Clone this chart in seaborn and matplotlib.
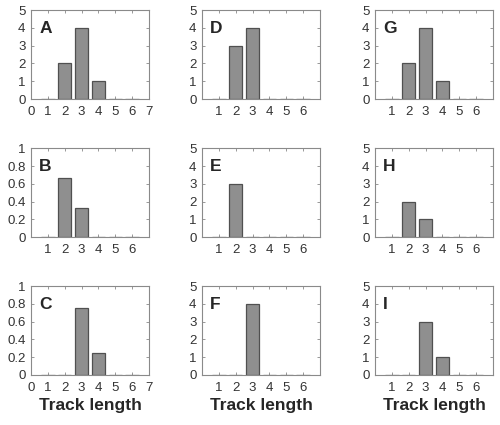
import numpy as np
import pandas as pd
import seaborn as sns
import matplotlib
matplotlib.use("Agg")
import matplotlib.pyplot as plt

# track lengths on the x axis
lengths = [1, 2, 3, 4, 5, 6]

# bar heights per panel
panel_a = [0, 2, 4, 1, 0, 0]
panel_b = [0, 0.667, 0.333, 0, 0, 0]
panel_c = [0, 0, 0.75, 0.25, 0, 0]
panel_d = [0, 3, 4, 0, 0, 0]
panel_e = [0, 3, 0, 0, 0, 0]
panel_f = [0, 0, 4, 0, 0, 0]
panel_g = [0, 2, 4, 1, 0, 0]
panel_h = [0, 2, 1, 0, 0, 0]
panel_i = [0, 0, 3, 1, 0, 0]

letters = ["A", "B", "C", "D", "E", "F", "G", "H", "I"]
values = [panel_a, panel_b, panel_c, panel_d, panel_e, panel_f, panel_g, panel_h, panel_i]

count_ticks = [0, 1, 2, 3, 4, 5]
frac_ticks = [0, 0.2, 0.4, 0.6, 0.8, 1]
frac_labels = ["0", "0.2", "0.4", "0.6", "0.8", "1"]

sns.set_style("ticks")
plt.rcParams["font.family"] = ["Liberation Sans", "DejaVu Sans"]

fig = plt.figure(figsize=(5, 4.25), dpi=100)
lefts = [0.062, 0.404, 0.75]
bottoms = [0.767, 0.442, 0.118]
w, h = 0.236, 0.209

for k, (letter, vals) in enumerate(zip(letters, values)):
    col, row = k // 3, k % 3
    ax = fig.add_axes([lefts[col], bottoms[row], w, h])
    dat = pd.DataFrame({"length": lengths, "count": vals})
    sns.barplot(x="length", y="count", data=dat, native_scale=True,
                color="#8f8f8f", saturation=1, edgecolor="#505050",
                linewidth=0.9, width=0.8, ax=ax)
    ax.set_xlim(0, 7)
    if letter in ("A", "C"):
        ax.set_xticks(range(0, 8))
    else:
        ax.set_xticks(lengths)
    if letter in ("B", "C"):
        ax.set_ylim(0, 1)
        ax.set_yticks(frac_ticks)
        ax.set_yticklabels(frac_labels)
    else:
        ax.set_ylim(0, 5)
        ax.set_yticks(count_ticks)
    ax.tick_params(direction="in", length=2.5, width=0.6, top=True, right=True,
                   labelsize=9.5, colors="#888888", labelcolor="#333333")
    ax.tick_params(axis="x", pad=5)
    ax.tick_params(axis="y", pad=4)
    for s in ax.spines.values():
        s.set_color("#8a8a8a")
        s.set_linewidth(0.8)
    ax.set_ylabel("")
    if row == 2:
        ax.set_xlabel("Track length", fontsize=12.5, fontweight="bold", labelpad=3)
    else:
        ax.set_xlabel("")
    ax.text(0.07, 0.79, letter, transform=ax.transAxes, fontsize=12.5,
            fontweight="bold", va="center", ha="left")

fig.savefig("out.png", dpi=100)
